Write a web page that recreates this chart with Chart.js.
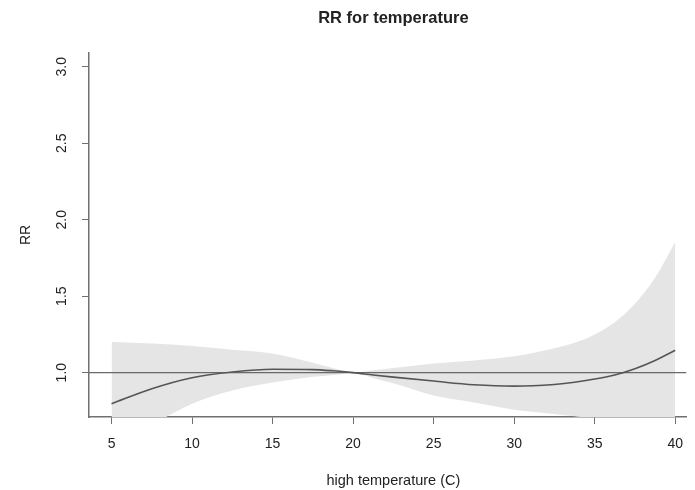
<!DOCTYPE html>
<html>
<head>
<meta charset="utf-8">
<script src="https://cdn.jsdelivr.net/npm/chart.js@4/dist/chart.umd.min.js"></script>
<style>
  html, body { margin: 0; padding: 0; background: #fff; overflow: hidden; }
  #wrap { width: 695px; height: 490px; }
</style>
</head>
<body>
<div id="wrap"><canvas id="myChart"></canvas></div>
<script>
// temperature grid (C) and the values
const temps = [5, 7.5, 10, 12.5, 15, 17.5, 18.75, 20, 21.25, 22.5, 25, 27.5, 30, 32.5, 33.75, 35, 36.25, 37.5, 38.75, 40];
const rr = [0.797, 0.895, 0.967, 1.004, 1.022, 1.02, 1.012, 1.0, 0.985, 0.971, 0.945, 0.921, 0.912, 0.923, 0.937, 0.958, 0.985, 1.026, 1.08, 1.146];
const rrUpper = [1.2, 1.19, 1.174, 1.15, 1.125, 1.065, 1.03, 1.0, 1.015, 1.03, 1.06, 1.08, 1.107, 1.16, 1.195, 1.25, 1.33, 1.45, 1.62, 1.855];
const rrLower = [0.53, 0.66, 0.797, 0.884, 0.935, 0.973, 0.985, 1.0, 0.965, 0.93, 0.85, 0.805, 0.758, 0.73, 0.715, 0.70, 0.69, 0.68, 0.68, 0.69];

const xTicks = [5, 10, 15, 20, 25, 30, 35, 40];
const yTicks = [1.0, 1.5, 2.0, 2.5, 3.0];
const refLine = [3.6, 40.7];

const font = '"Liberation Sans", Arial, sans-serif';
const axisColor = '#707070';

const pts = (ys) => temps.map((t, i) => ({ x: t, y: ys[i] }));

// R-style extras: rotated y labels, titles
const rPlot = {
    id: 'rPlot',
    afterDraw(chart) {
        const { ctx, scales: { x, y } } = chart;
        const mid = x.getPixelForValue(22.5);
        ctx.save();
        ctx.fillStyle = '#222';
        ctx.textAlign = 'center';
        ctx.textBaseline = 'middle';
        ctx.font = '14px ' + font;
        yTicks.forEach(v => {
            ctx.save();
            ctx.translate(62, y.getPixelForValue(v));
            ctx.rotate(-Math.PI / 2);
            ctx.fillText(v.toFixed(1), 0, 0);
            ctx.restore();
        });
        ctx.save();
        ctx.translate(26, (chart.chartArea.top + chart.chartArea.bottom) / 2);
        ctx.rotate(-Math.PI / 2);
        ctx.fillText('RR', 0, 0);
        ctx.restore();
        ctx.font = '14.5px ' + font;
        ctx.fillText('high temperature (C)', mid, 481);
        ctx.font = 'bold 16.5px ' + font;
        ctx.fillText('RR for temperature', mid, 18);
        ctx.restore();
    }
};

const ctx = document.getElementById('myChart');

new Chart(ctx, {
    type: 'line',
    data: {
        datasets: [
            {
                data: pts(rrLower),
                borderWidth: 0,
                pointRadius: 0,
                fill: false,
                order: 3,
                cubicInterpolationMode: 'monotone'
            },
            {
                data: pts(rrUpper),
                borderWidth: 0,
                pointRadius: 0,
                backgroundColor: '#e5e5e5',
                fill: '-1',
                order: 2,
                cubicInterpolationMode: 'monotone'
            },
            {
                data: refLine.map(t => ({ x: t, y: 1 })),
                borderColor: '#6a6a6a',
                borderWidth: 1.2,
                pointRadius: 0,
                fill: false,
                order: 1
            },
            {
                data: pts(rr),
                borderColor: '#555555',
                borderWidth: 1.6,
                pointRadius: 0,
                fill: false,
                order: 0,
                cubicInterpolationMode: 'monotone'
            }
        ]
    },
    options: {
        responsive: true,
        maintainAspectRatio: false,
        animation: false,
        layout: { padding: { top: 53, right: 0, left: 0, bottom: 0 } },
        plugins: { legend: { display: false }, tooltip: { enabled: false } },
        scales: {
            x: {
                type: 'linear',
                min: 3.6,
                max: 40.7,
                afterBuildTicks: s => { s.ticks = xTicks.map(v => ({ value: v })); },
                afterFit: s => { s.height = 73; },
                grid: { drawOnChartArea: false, drawTicks: true, tickLength: 7, color: axisColor },
                border: { display: true, color: axisColor, width: 1.5 },
                ticks: { color: '#222', font: { family: font, size: 14 }, padding: 12, maxRotation: 0 }
            },
            y: {
                type: 'linear',
                min: 0.71,
                max: 3.09,
                afterBuildTicks: s => { s.ticks = yTicks.map(v => ({ value: v })); },
                afterFit: s => { s.width = 89; },
                grid: { drawOnChartArea: false, drawTicks: true, tickLength: 7, color: axisColor },
                border: { display: true, color: axisColor, width: 1.5 },
                ticks: { display: false }
            }
        }
    },
    plugins: [rPlot]
});
</script>
</body>
</html>
